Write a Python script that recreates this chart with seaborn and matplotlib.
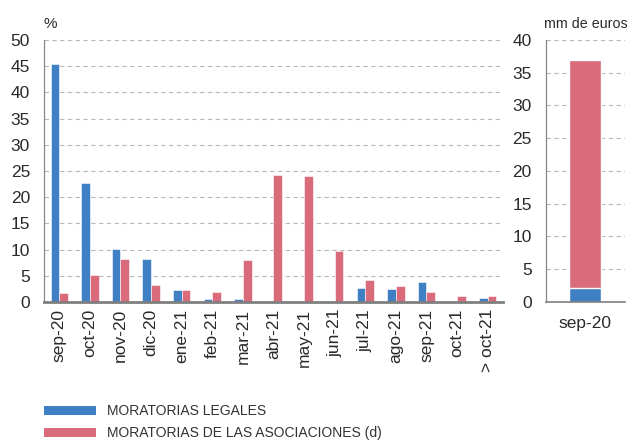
import numpy as np
import pandas as pd
import matplotlib
matplotlib.use('Agg')
import matplotlib.pyplot as plt
import seaborn as sns
from matplotlib.patches import Patch
from matplotlib import font_manager

meses = ['sep-20', 'oct-20', 'nov-20', 'dic-20', 'ene-21', 'feb-21', 'mar-21', 'abr-21',
         'may-21', 'jun-21', 'jul-21', 'ago-21', 'sep-21', 'oct-21', '> oct-21']
legales = [45.4, 22.7, 10.1, 8.15, 2.3, 0.65, 0.5, 0.2, 0.05, 0.2, 2.6, 2.5, 3.75, 0.2, 0.82]
asociaciones = [1.7, 5.2, 8.3, 3.25, 2.3, 1.85, 8.0, 24.3, 24.0, 9.75, 4.27, 3.0, 2.0, 1.2, 1.07]

# panel derecho, mm de euros (apilado)
total_mes = ['sep-20']
total_legales = [2.2]
total_asociaciones = [34.7]

nombres = ['MORATORIAS LEGALES', 'MORATORIAS DE LAS ASOCIACIONES (d)']
azul = '#3f7fc4'
rojo = '#d96b7b'

sns.set_style('white')
plt.rcParams['font.family'] = ['Liberation Sans', 'DejaVu Sans']
plt.rcParams['text.color'] = '#2a2a2a'
plt.rcParams['xtick.color'] = '#2a2a2a'
plt.rcParams['ytick.color'] = '#2a2a2a'

instaladas = {f.name for f in font_manager.fontManager.ttflist}
if 'Liberation Sans Narrow' in instaladas:
    fuente_leyenda, tam_leyenda = 'Liberation Sans Narrow', 11.5
else:
    fuente_leyenda, tam_leyenda = 'Liberation Sans', 10

df = pd.DataFrame({
    'mes': meses * 2,
    'valor': legales + asociaciones,
    'serie': [nombres[0]] * len(meses) + [nombres[1]] * len(meses),
})

fig = plt.figure(figsize=(6.3, 4.41), dpi=100)
ax = fig.add_axes([0.0698, 0.3152, 0.7286, 0.5941])
ax2 = fig.add_axes([0.8659, 0.3152, 0.1262, 0.5941])

sns.barplot(data=df, x='mes', y='valor', hue='serie', order=meses, hue_order=nombres,
            palette=[azul, rojo], width=0.57, saturation=1, legend=False, ax=ax,
            edgecolor='white', linewidth=0.4)
ax.set_ylim(0, 50)
ax.set_xlim(-0.5, 14.5)
ax.set_yticks(np.arange(0, 51, 5))
ax.set_xlabel('')
ax.set_ylabel('')
ax.set_axisbelow(True)
ax.yaxis.grid(True, color='#b8b8b8', linestyle=(0, (4, 3)), linewidth=0.8)
ax.tick_params(axis='y', length=0, pad=10, labelsize=12.5)
ax.tick_params(axis='x', which='major', length=0, pad=5, labelsize=12.5, labelrotation=90)
ax.set_xticks(np.arange(0.5, 15, 1), minor=True)
ax.tick_params(axis='x', which='minor', direction='in', length=5, width=1.2, color='#999999')
for s in ['top', 'right']:
    ax.spines[s].set_visible(False)
ax.spines['left'].set_color('#888888')
ax.spines['left'].set_linewidth(0.9)
ax.spines['bottom'].set_color('#808080')
ax.spines['bottom'].set_linewidth(2)
ax.text(0, 1.035, '%', transform=ax.transAxes, fontsize=11, ha='left', va='bottom')

# panel derecho: barras apiladas
tot = [a + b for a, b in zip(total_legales, total_asociaciones)]
sns.barplot(x=total_mes, y=tot, color=rojo, saturation=1, width=0.4, ax=ax2)
sns.barplot(x=total_mes, y=total_legales, color=azul, saturation=1, width=0.4, ax=ax2)
ax2.set_ylim(0, 40)
ax2.set_xlim(-0.5, 0.5)
ax2.set_yticks(np.arange(0, 41, 5))
ax2.set_axisbelow(True)
ax2.yaxis.grid(True, color='#b8b8b8', linestyle=(0, (4, 3)), linewidth=0.8)
ax2.tick_params(axis='y', length=0, pad=10, labelsize=12.5)
ax2.tick_params(axis='x', which='major', length=0, pad=10, labelsize=12.5)
ax2.set_xticks([0.5], minor=True)
ax2.tick_params(axis='x', which='minor', direction='in', length=5, width=1.2, color='#999999')
for s in ['top', 'right']:
    ax2.spines[s].set_visible(False)
ax2.spines['left'].set_color('#888888')
ax2.spines['left'].set_linewidth(0.9)
ax2.spines['bottom'].set_color('#808080')
ax2.spines['bottom'].set_linewidth(1.2)
ax2.text(-0.02, 1.035, 'mm de euros', transform=ax2.transAxes, fontsize=10.3,
         ha='left', va='bottom')

handles = [Patch(facecolor=azul, edgecolor='none'), Patch(facecolor=rojo, edgecolor='none')]
leg = fig.legend(handles, nombres, loc='upper left', bbox_to_anchor=(0.0698, 0.083),
                 frameon=False, ncol=1, handlelength=52 / (tam_leyenda * 100 / 72),
                 handleheight=0.65, handletextpad=0.8,
                 labelspacing=0.55, borderpad=0, borderaxespad=0,
                 prop={'family': fuente_leyenda, 'size': tam_leyenda})
for t in leg.get_texts():
    t.set_color('#333333')

fig.savefig('out.png', dpi=100)
